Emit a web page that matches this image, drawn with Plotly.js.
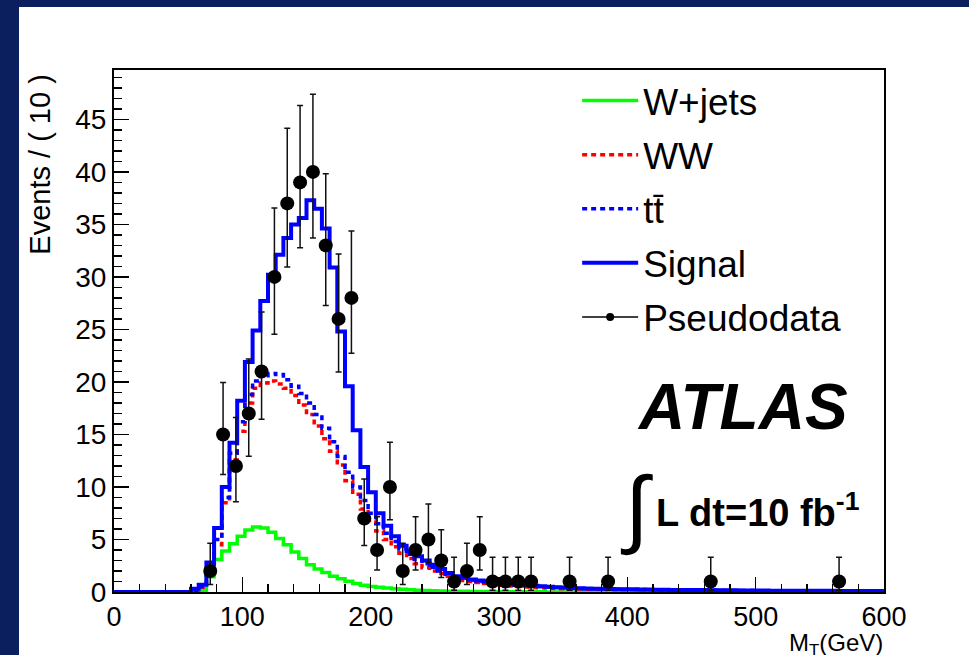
<!DOCTYPE html>
<html>
<head>
<meta charset="utf-8">
<script src="https://cdn.plot.ly/plotly-3.0.1.min.js"></script>
<style>
  html, body { margin:0; padding:0; width:969px; height:655px; background:#0b1f5e; overflow:hidden; }
  #chart { position:absolute; left:19px; top:7px; width:950px; height:648px; background:#ffffff; }
</style>
</head>
<body>
<div id="chart"></div>
<script>
// ---- histogram bins: 6 GeV wide, 0..600 GeV ----
const binWidth = 6;

// stacked templates (Events per bin), bins 0-6, 6-12, ..., 594-600
const wjets = [0,0,0,0,0,0,0,0,0,0,
  0,0.05,1.45,3.1,3.9,4.6,5.3,5.9,6.2,6.1,
  5.7,5.1,4.5,3.8,3.2,2.6,2.2,1.85,1.5,1.26,
  1.03,0.81,0.65,0.53,0.45,0.38,0.31,0.26,0.21,0.17,
  0.14,0.12,0.1,0.08,0.07,0.06,0.05,0.04,0.04,0.03,
  0.03,0.03,0.02,0.02,0.02,0.02,0.01,0.01,0.01,0.01,
  0.01,0.01,0.01,0.01,0.01,0.01,0.01,0.01,0.01,0.01,
  0,0,0,0,0,0,0,0,0,0,
  0,0,0,0,0,0,0,0,0,0,
  0,0,0,0,0,0,0,0,0,0];

const ww = [0,0,0,0,0,0,0,0,0,0,
  0.1,0.4,2.0,4.5,8.5,12.6,15.3,18.0,19.4,19.9,
  20.1,19.8,19.4,18.7,17.8,16.9,15.8,14.6,13.4,12.1,
  10.6,9.3,7.9,6.8,5.8,5.0,4.3,3.7,3.2,2.7,
  2.3,2.0,1.75,1.5,1.3,1.1,1.0,0.9,0.8,0.72,
  0.65,0.58,0.52,0.47,0.43,0.4,0.37,0.34,0.32,0.3,
  0.28,0.27,0.26,0.25,0.24,0.23,0.22,0.21,0.2,0.19,
  0.18,0.18,0.17,0.17,0.16,0.16,0.15,0.15,0.14,0.14,
  0.13,0.13,0.13,0.12,0.12,0.12,0.11,0.11,0.11,0.1,
  0.1,0.1,0.1,0.09,0.09,0.09,0.09,0.08,0.08,0.08];

const ttbar = [0,0,0,0,0,0,0,0,0,0,
  0.15,0.5,2.3,5.0,9.0,13.2,16.2,18.8,20.1,20.6,
  20.8,20.7,20.2,19.6,18.9,18.0,16.9,15.6,14.3,12.9,
  11.4,10.0,8.7,7.5,6.5,5.6,4.8,4.1,3.6,3.1,
  2.7,2.35,2.0,1.7,1.45,1.3,1.15,1.05,0.95,0.9,
  0.8,0.72,0.66,0.6,0.56,0.52,0.48,0.44,0.4,0.37,
  0.34,0.32,0.3,0.29,0.27,0.26,0.25,0.24,0.23,0.22,
  0.21,0.2,0.19,0.19,0.18,0.17,0.17,0.16,0.16,0.15,
  0.15,0.14,0.14,0.13,0.13,0.13,0.12,0.12,0.12,0.11,
  0.11,0.11,0.1,0.1,0.1,0.1,0.09,0.09,0.09,0.09];

const signal = [0,0,0,0,0,0,0,0,0,0,
  0.3,0.7,2.8,6.1,10.0,14.2,18.2,21.9,24.9,27.7,
  30.2,32.1,33.7,35.0,35.6,37.3,36.5,34.6,30.9,24.8,
  19.6,15.4,11.9,9.5,7.5,6.3,5.3,4.4,3.9,3.4,
  3.0,2.6,2.2,1.8,1.5,1.35,1.2,1.1,1.0,0.95,
  0.85,0.75,0.7,0.65,0.6,0.55,0.5,0.46,0.42,0.39,
  0.36,0.34,0.32,0.3,0.29,0.27,0.26,0.25,0.24,0.23,
  0.22,0.21,0.2,0.2,0.19,0.18,0.18,0.17,0.17,0.16,
  0.16,0.15,0.15,0.14,0.14,0.13,0.13,0.13,0.12,0.12,
  0.12,0.11,0.11,0.11,0.1,0.1,0.1,0.1,0.09,0.09];

// pseudodata (10 GeV bins, centres) with asymmetric Poisson errors
const dataX = [75,85,95,105,115,125,135,145,155,165,175,185,195,205,215,225,235,245,255,265,275,285,295,305,315,325,355,385,465,565];
const dataY = [2,15,12,17,21,30,37,39,40,33,26,28,7,4,10,2,4,5,3,1,2,4,1,1,1,1,1,1,1,1];
const errHi = [2.64,4.95,4.61,5.18,5.65,6.55,7.16,7.33,7.40,6.83,6.17,6.37,3.77,3.16,4.26,2.64,3.16,3.38,2.92,2.30,2.64,3.16,2.30,2.30,2.30,2.30,2.30,2.30,2.30,2.30];
const errLo = [1.29,3.82,3.41,4.08,4.55,5.45,6.06,6.22,6.30,5.72,5.06,5.26,2.58,1.91,3.11,1.29,1.91,2.16,1.63,0.83,1.29,1.91,0.83,0.83,0.83,0.83,0.83,0.83,0.83,0.83];

const names = ['W+jets','WW','t\u0074\u0304','Signal','Pseudodata'];

const edges = Array.from({length: signal.length + 1}, (_, i) => i * binWidth);
const stepY = v => v.concat([v[v.length - 1]]);

const FONT = '"Liberation Sans", Arial, Helvetica, sans-serif';

function hist(vals, name, color, dash, width, group) {
  return {
    type: 'scatter', mode: 'lines', x: edges, y: stepY(vals), name: name,
    legendgroup: group,
    line: {shape: 'hv', color: color, width: width, dash: dash}
  };
}

const traces = [
  hist(wjets, names[0], '#00ff00', 'solid', 3.5, 'g1'),
  hist(ww, names[1], '#ff0000', '5px,4px', 3.5, 'g2'),
  hist(ttbar, names[2], '#0000ff', '5px,4px', 3.5, 'g3'),
  hist(signal, names[3], '#0000ff', 'solid', 4, 'g4'),
  {
    type: 'scatter', mode: 'markers', x: dataX, y: dataY, showlegend: false,
    marker: {color: '#000000', size: 14, symbol: 'circle'},
    error_y: {type: 'data', symmetric: false, array: errHi, arrayminus: errLo,
              color: '#111111', thickness: 1.5, width: 3}
  },
  {
    type: 'scatter', mode: 'lines+markers', x: [null], y: [null], name: names[4],
    legendgroup: 'g5',
    line: {color: '#000000', width: 1.5}, marker: {color: '#000000', size: 8}
  }
];

const axisBase = {
  showgrid: false, zeroline: false, showline: true, linecolor: '#000000', linewidth: 2,
  mirror: true, ticks: 'inside', tickcolor: '#000000', tickwidth: 1.5, ticklen: 15,
  tickfont: {family: FONT, size: 28, color: '#000000'}, fixedrange: true
};

const layout = {
  width: 950, height: 648,
  margin: {l: 95, r: 85, t: 63, b: 63},
  paper_bgcolor: '#ffffff', plot_bgcolor: '#ffffff',
  showlegend: true,
  legend: {
    x: 0.6015, y: 1.0, xanchor: 'left', yanchor: 'top',
    bgcolor: 'rgba(255,255,255,0)', borderwidth: 0,
    font: {family: FONT, size: 37, color: '#000000'},
    tracegroupgap: 3, itemwidth: 56
  },
  xaxis: Object.assign({}, axisBase, {
    range: [0, 600], tick0: 0, dtick: 100,
    tickfont: {family: FONT, size: 27, color: '#000000'},
    minor: {dtick: 20, ticks: 'inside', ticklen: 8, tickcolor: '#000000', tickwidth: 1.5}
  }),
  yaxis: Object.assign({}, axisBase, {
    range: [0, 49.7], tick0: 0, dtick: 5,
    minor: {dtick: 1, ticks: 'inside', ticklen: 8, tickcolor: '#000000', tickwidth: 1.5}
  }),
  annotations: [
    {xref: 'x', yref: 'y', x: 490, y: 17.6, text: '<b><i>ATLAS</i></b>', showarrow: false,
     xanchor: 'center', yanchor: 'middle', font: {family: FONT, size: 64, color: '#000000'}},
    {xref: 'x', yref: 'y', x: 407, y: 8.05, text: '\u222B', showarrow: false,
     xanchor: 'center', yanchor: 'middle', font: {family: FONT, size: 86, color: '#000000'}},
    {xref: 'x', yref: 'y', x: 421, y: 7.8, text: '<b>L dt=10 fb<sup>-1</sup></b>', showarrow: false,
     xanchor: 'left', yanchor: 'middle', font: {family: FONT, size: 38, color: '#000000'}},
    {xref: 'paper', yref: 'paper', x: -0.096, y: 0.996, text: 'Events / ( 10 )', showarrow: false,
     textangle: -90, xanchor: 'center', yanchor: 'top', font: {family: FONT, size: 29, color: '#000000'}},
    {xref: 'paper', yref: 'paper', x: 1.0, y: -0.1, text: 'M<sub>T</sub>(GeV)', showarrow: false,
     borderpad: 0, xanchor: 'right', yanchor: 'middle', font: {family: FONT, size: 24, color: '#000000'}}
  ]
};

Plotly.newPlot('chart', traces, layout, {displayModeBar: false, staticPlot: true});
</script>
</body>
</html>
